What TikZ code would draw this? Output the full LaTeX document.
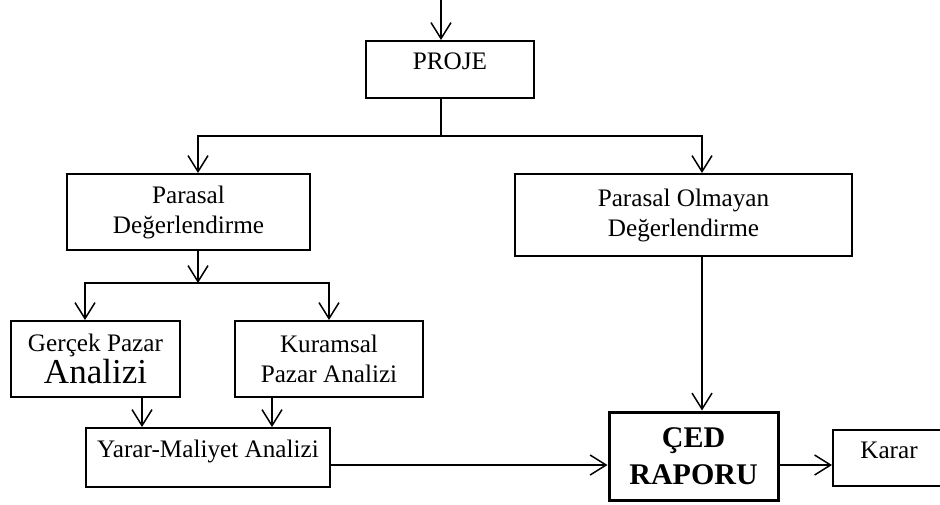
\documentclass[tikz,border=0pt]{standalone}
\usepackage{fontspec}
\setmainfont{Liberation Serif}
\usetikzlibrary{arrows.meta}

\tikzset{
  box/.style = {draw, line width = 1pt, inner sep = 0pt, align = center,
                font = \fontsize{12.6}{15}\selectfont},
  midline/.style = {text height = 8pt, text depth = 8pt},
  wire/.style = {line width = 0.75pt},
  link/.style = {wire, -{Straight Barb[length = 8pt, width = 10pt, line width = 0.75pt]}},
}

\begin{document}
\begin{tikzpicture}[x = 0.5pt, y = -0.5pt]
\useasboundingbox (0, 0) rectangle (940, 504);
\clip (0, 0) rectangle (940, 504);
% Boxes
\node[box, midline, minimum width = 84pt, minimum height = 28.5pt] (proje) at (450, 69.5) {PROJE};
\node[box, minimum width = 121.5pt, minimum height = 38pt] (parasal) at (188.5, 212) {Parasal\\De\u{g}erlendirme};
\node[box, minimum width = 168.5pt, minimum height = 41pt] (olmayan) at (683.5, 215) {Parasal Olmayan\\De\u{g}erlendirme};
\node[box, minimum width = 84.5pt, minimum height = 38pt] (gercek) at (95.5, 359) {Gerçek Pazar\\[1pt]{\fontsize{17.5}{19}\selectfont Analizi}};
\node[box, minimum width = 94pt, minimum height = 38pt] (kuramsal) at (329, 359) {Kuramsal\\Pazar Analizi};
\node[box, midline, minimum width = 122pt, minimum height = 29.5pt] (yarar) at (208, 457.5) {Yarar-Maliyet Analizi};
\node[box, line width = 1.5pt, minimum width = 84.5pt, minimum height = 44pt,
      font = \fontsize{15}{18.5}\selectfont\bfseries] (ced) at (693.5, 456) {ÇED\\RAPORU};
\node[box, midline, minimum width = 56pt, minimum height = 28pt] (karar) at (889, 458) {Karar};
% Branch points
\coordinate (entry) at (441, 0);
\coordinate (fork) at (441, 136);
\coordinate (forkl) at (198, 136);
\coordinate (forkr) at (702, 136);
\coordinate (split) at (198, 283);
\coordinate (splitl) at (85, 283);
\coordinate (splitr) at (329, 283);
\coordinate (gdown) at (142, 0);
\coordinate (kdown) at (272, 0);
\coordinate (row) at (0, 465);
% Top
\draw[link] (entry) -- (entry |- proje.north);
\draw[wire] (fork |- proje.south) -- (fork);
\draw[link] (fork) -| (forkl |- parasal.north);
\draw[link] (fork) -| (forkr |- olmayan.north);
% Parasal
\draw[link] (split |- parasal.south) -- (split);
\draw[link] (split) -| (splitl |- gercek.north);
\draw[link] (split) -| (splitr |- kuramsal.north);
\draw[link] (gdown |- gercek.south) -- (gdown |- yarar.north);
\draw[link] (kdown |- kuramsal.south) -- (kdown |- yarar.north);
% Report
\draw[link] (yarar.east |- row) -- (ced.west |- row);
\draw[link] (forkr |- olmayan.south) -- (forkr |- ced.north);
\draw[link] (ced.east |- row) -- (karar.west |- row);
\end{tikzpicture}
\end{document}
